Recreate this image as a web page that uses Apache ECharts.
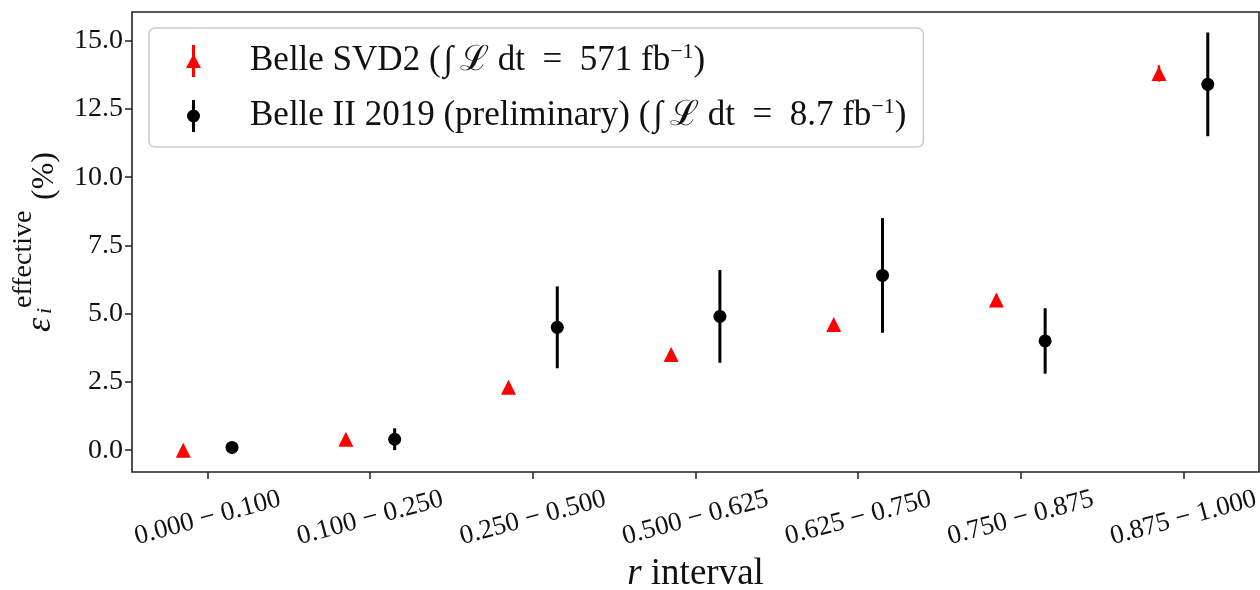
<!DOCTYPE html>
<html>
<head>
<meta charset="utf-8">
<script src="https://cdn.jsdelivr.net/npm/echarts@6/dist/echarts.min.js"></script>
<style>
  html, body { margin: 0; padding: 0; background: #fff; }
  #chart { width: 1260px; height: 590px; }
</style>
</head>
<body>
<div id="chart"></div>
<script>
// ---- data ----
const categories = ['0.000 − 0.100', '0.100 − 0.250', '0.250 − 0.500', '0.500 − 0.625', '0.625 − 0.750', '0.750 − 0.875', '0.875 − 1.000'];
const belleValues = [0.0, 0.4, 2.3, 3.5, 4.6, 5.5, 13.8];
const belleErrors = [0.1, 0.1, 0.15, 0.15, 0.15, 0.2, 0.3];
const belle2Values = [0.1, 0.4, 4.5, 4.9, 6.4, 4.0, 13.4];
const belle2Errors = [0.05, 0.4, 1.5, 1.7, 2.1, 1.2, 1.9];
const yTicks = [0, 2.5, 5, 7.5, 10, 12.5, 15];
const seriesNames = ['Belle SVD2', 'Belle II 2019 (preliminary)'];
const seriesLumi = ['571', '8.7'];

// ---- build ----
const OFFSET = 0.15;
const FONT = 'Liberation Serif';
function pts(vals, errs, off) {
  return vals.map((v, i) => [i + off, v, errs[i]]);
}
function errRender(color, width) {
  return function (params, api) {
    const x = api.value(0), y = api.value(1), e = api.value(2);
    const p1 = api.coord([x, y - e]);
    const p2 = api.coord([x, y + e]);
    return {
      type: 'line',
      shape: { x1: p1[0], y1: p1[1], x2: p2[0], y2: p2[1] },
      style: { stroke: color, lineWidth: width }
    };
  };
}
const redData = pts(belleValues, belleErrors, -OFFSET);
const blackData = pts(belle2Values, belle2Errors, OFFSET);

const iconRed = 'path://M6,0H9V32H6Z M0,23L7.5,9L15,23Z';
const iconBlack = 'path://M6,0H9V32H6Z M1,16A6.5,6.5 0 1,1 14,16A6.5,6.5 0 1,1 1,16Z';

function legendText(name) {
  const i = seriesNames.indexOf(name);
  return name + ' (\u200a∫\u2009ℒ dt  =  ' + seriesLumi[i] + ' fb{sup|−1})';
}

const chart = echarts.init(document.getElementById('chart'), null, { renderer: 'canvas' });
chart.setOption({
  animation: false,
  backgroundColor: '#ffffff',
  grid: {
    left: 132, right: 1, top: 12, bottom: 118,
    containLabel: false, outerBoundsMode: 'none',
    show: true, borderColor: '#222', borderWidth: 1.6, backgroundColor: 'transparent'
  },
  xAxis: {
    type: 'value',
    min: -0.465, max: 6.465,
    axisLine: { show: false, onZero: false },
    splitLine: { show: false },
    axisTick: { show: true, inside: false, length: 7, lineStyle: { color: '#222', width: 1.5 }, customValues: [0, 1, 2, 3, 4, 5, 6] },
    axisLabel: {
      customValues: [0, 1, 2, 3, 4, 5, 6],
      formatter: v => categories[Math.round(v)] || '',
      rotate: 15, align: 'center', verticalAlign: 'middle', margin: 46,
      fontFamily: FONT, fontSize: 27, color: '#111'
    },
    name: '{it|r} interval',
    nameLocation: 'middle',
    nameGap: 84,
    nameTextStyle: {
      fontFamily: FONT, fontSize: 37, color: '#111',
      rich: { it: { fontFamily: FONT, fontStyle: 'italic', fontSize: 37, color: '#111' } }
    }
  },
  yAxis: {
    type: 'value',
    min: -0.8, max: 16.05,
    axisLine: { show: false, onZero: false },
    splitLine: { show: false },
    axisTick: { show: true, inside: false, length: 7, lineStyle: { color: '#222', width: 1.5 }, customValues: yTicks },
    axisLabel: {
      customValues: yTicks,
      formatter: v => v.toFixed(1),
      margin: 9,
      fontFamily: FONT, fontSize: 28, color: '#111'
    }
  },
  legend: {
    orient: 'vertical',
    left: 149, top: 28,
    padding: [13, 17, 11, 37],
    itemWidth: 15, itemHeight: 32, itemGap: 15,
    selectedMode: false,
    backgroundColor: 'rgba(255,255,255,0.8)',
    borderColor: '#cccccc', borderWidth: 1.5, borderRadius: 6,
    data: [
      { name: seriesNames[0], icon: iconRed, itemStyle: { color: '#ff0000', borderWidth: 0 } },
      { name: seriesNames[1], icon: iconBlack, itemStyle: { color: '#000000', borderWidth: 0 } }
    ],
    formatter: legendText,
    textStyle: {
      fontFamily: FONT, fontSize: 35, color: '#111', padding: [0, 0, 0, 44], lineHeight: 40,
      rich: { sup: { fontFamily: FONT, fontSize: 22, color: '#111', verticalAlign: 'top', lineHeight: 16 } }
    }
  },
  graphic: [{
    type: 'group',
    x: 53, y: 332,
    rotation: Math.PI / 2,
    children: [
      { type: 'text', x: 0, y: -12.6, style: { text: 'ε', font: 'italic 36px "Liberation Serif"', fill: '#111', verticalAlign: 'middle' } },
      { type: 'text', x: 18, y: -7.7, style: { text: 'i', font: 'italic 22px "Liberation Serif"', fill: '#111', verticalAlign: 'middle' } },
      { type: 'text', x: 24, y: -29.8, style: { text: 'effective', font: '28px "Liberation Serif"', fill: '#111', verticalAlign: 'middle' } },
      { type: 'text', x: 132, y: -8.5, style: { text: '(%)', font: '32px "Liberation Serif"', fill: '#111', verticalAlign: 'middle' } }
    ]
  }],
  series: [
    {
      type: 'custom', name: 'err0', data: redData, encode: { x: 0, y: 1 },
      renderItem: errRender('#ff0000', 2.5), z: 2, silent: true
    },
    {
      type: 'scatter', name: seriesNames[0], data: redData.map(d => [d[0], d[1]]),
      symbol: 'triangle', symbolSize: 15, itemStyle: { color: '#ff0000', opacity: 1 }, z: 3
    },
    {
      type: 'custom', name: 'err1', data: blackData, encode: { x: 0, y: 1 },
      renderItem: errRender('#000000', 3), z: 4, silent: true
    },
    {
      type: 'scatter', name: seriesNames[1], data: blackData.map(d => [d[0], d[1]]),
      symbol: 'circle', symbolSize: 13, itemStyle: { color: '#000000', opacity: 1 }, z: 5
    }
  ]
});
</script>
</body>
</html>
